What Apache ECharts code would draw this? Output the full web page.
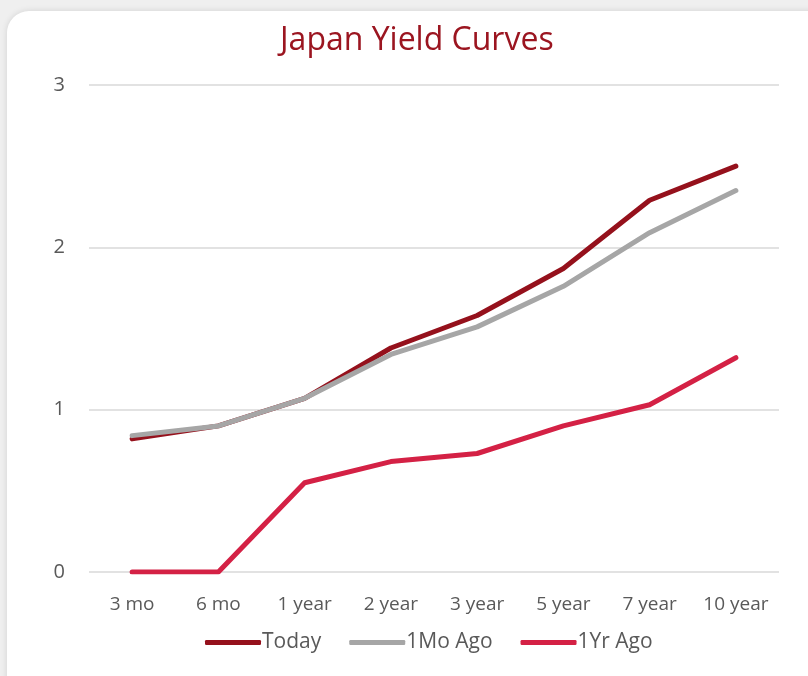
<!DOCTYPE html>
<html>
<head>
<meta charset="utf-8">
<script src="https://cdn.jsdelivr.net/npm/echarts@6/dist/echarts.min.js"></script>
<style>
html,body{margin:0;padding:0;width:808px;height:676px;overflow:hidden;background:#efefef;}
#card{position:absolute;left:7px;top:11px;width:830px;height:700px;background:#fff;border-radius:22px;box-shadow:0 0 6px rgba(0,0,0,0.12);}
#chart{position:absolute;left:0;top:0;width:808px;height:676px;}
</style>
</head>
<body>
<div id="card"></div>
<div id="chart"></div>
<script>
const categories = ['3 mo','6 mo','1 year','2 year','3 year','5 year','7 year','10 year'];
const today = [0.82, 0.90, 1.07, 1.38, 1.58, 1.87, 2.29, 2.50];
const oneMoAgo = [0.84, 0.90, 1.07, 1.34, 1.51, 1.76, 2.09, 2.35];
const oneYrAgo = [0.00, 0.00, 0.55, 0.68, 0.73, 0.90, 1.03, 1.32];
const yTicks = [0, 1, 2, 3];

const font = '"Open Sans", "Liberation Sans", sans-serif';
const chart = echarts.init(document.getElementById('chart'), null, {renderer:'canvas'});
function line(name, data, color){
  return {name, type:'line', data, symbol:'none', showSymbol:false,
    lineStyle:{width:5, color, cap:'round', join:'round'}, itemStyle:{color}};
}
chart.setOption({
  backgroundColor:'transparent',
  animation:false,
  title:{text:'Japan Yield Curves', left:275, top:20,
    textStyle:{color:'#9B1520', fontSize:32, fontWeight:'normal', fontFamily:font}},
  grid:{left:89, right:29, top:85, bottom:104},
  legend:{bottom:18, left:200, itemWidth:56, itemHeight:5, itemGap:28, icon:'roundRect',
    textStyle:{color:'#595959', fontSize:21, fontFamily:font, padding:[0,0,0,-4]},
    data:['Today','1Mo Ago','1Yr Ago']},
  xAxis:{type:'category', data:categories, boundaryGap:true,
    axisLine:{show:false}, axisTick:{show:false},
    axisLabel:{color:'#595959', fontSize:19, fontFamily:font, margin:23, interval:0}},
  yAxis:{type:'value', min:yTicks[0], max:yTicks[yTicks.length-1], interval:1,
    axisLabel:{color:'#595959', fontSize:20, fontFamily:font, margin:24},
    splitLine:{lineStyle:{color:'#d9d9d9', width:1.5}}},
  series:[
    line('1Yr Ago', oneYrAgo, '#D42145'),
    line('Today', today, '#95111C'),
    line('1Mo Ago', oneMoAgo, '#A6A6A6')
  ]
});
</script>
</body>
</html>
